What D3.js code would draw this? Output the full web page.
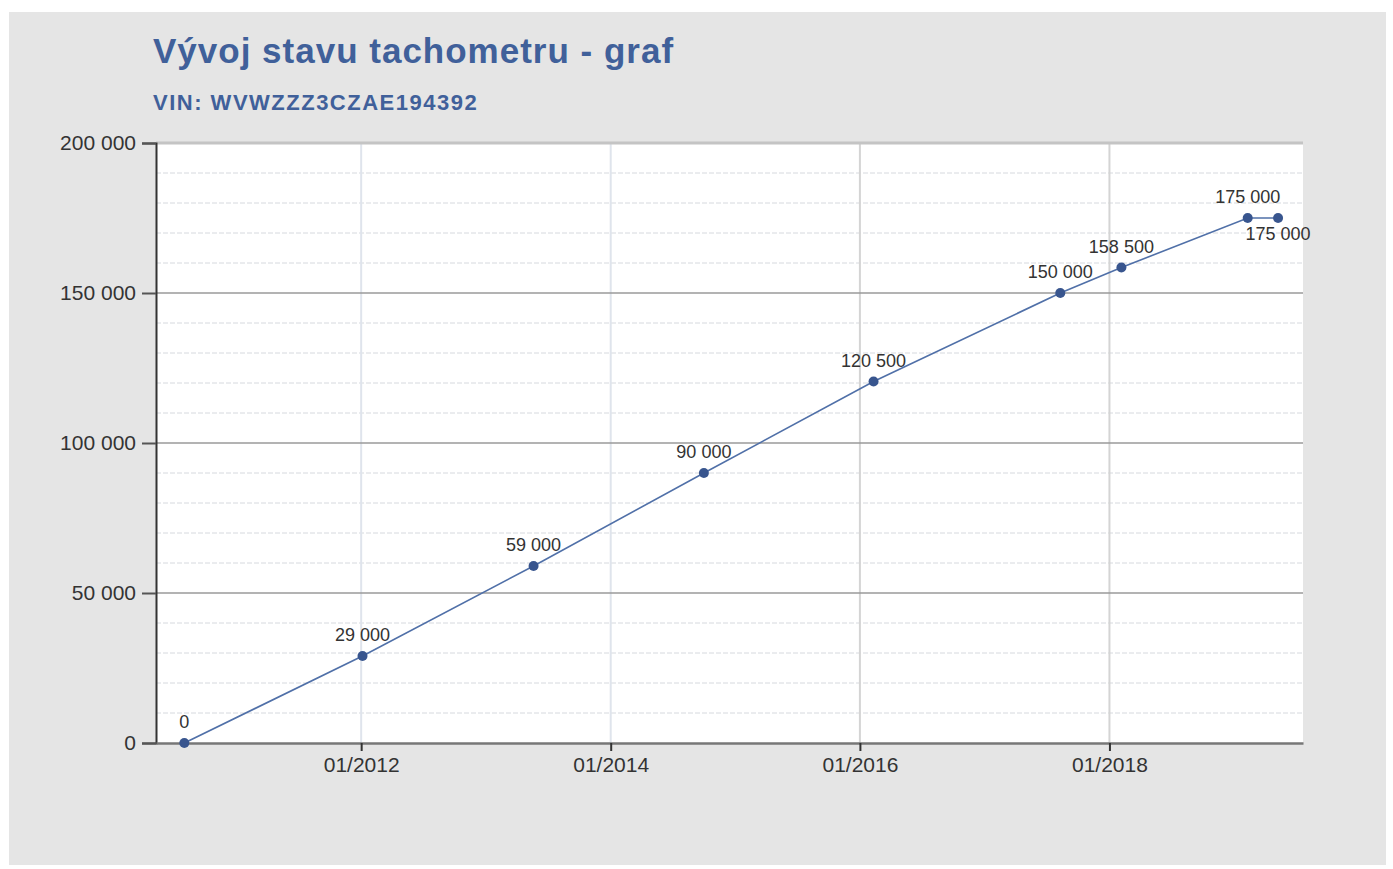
<!DOCTYPE html>
<html>
<head>
<meta charset="utf-8">
<script src="https://cdn.jsdelivr.net/npm/d3@7"></script>
<style>
  body { margin: 0; background: #fff; }
  svg { display: block; font-family: "Liberation Sans", Arial, sans-serif; }
</style>
</head>
<body>
<svg id="graf" width="1393" height="869"></svg>
<script>
// Data odečtu tachometru
const datumy = ["2010-08-01", "2012-01-05", "2013-05-20", "2014-10-01", "2016-02-10",
                "2017-08-10", "2018-02-05", "2019-02-10", "2019-05-10"];
const kilometry = [0, 29000, 59000, 90000, 120500, 150000, 158500, 175000, 175000];

const rozsahX = ["2010-05-10", "2019-07-22"];
const rozsahY = [0, 200000];
const tickyX = ["2012-01-01", "2014-01-01", "2016-01-01", "2018-01-01"];
const tickyY = [0, 50000, 100000, 150000, 200000];
const vedlejsiY = d3.range(10000, 200000, 10000);

const nadpis = "Vývoj stavu tachometru - graf";
const podnadpis = "VIN: WVWZZZ3CZAE194392";

const parse = d3.timeParse("%Y-%m-%d");
const cz = d3.formatLocale({ decimal: ",", thousands: " ", grouping: [3], currency: ["", " Kč"] });
const fmt = cz.format(",d");

const body = datumy.map((d, i) => ({ datum: parse(d), km: kilometry[i] }));

const svg = d3.select("#graf");

// šedé pozadí
svg.append("rect")
    .attr("x", 9).attr("y", 12)
    .attr("width", 1377).attr("height", 853)
    .attr("fill", "#e5e5e5");

svg.append("text")
    .attr("x", 153).attr("y", 63)
    .attr("fill", "#40609a")
    .attr("font-size", 35)
    .attr("font-weight", "bold")
    .attr("letter-spacing", 1)
    .text(nadpis);

svg.append("text")
    .attr("x", 153).attr("y", 110)
    .attr("fill", "#40609a")
    .attr("font-size", 22)
    .attr("font-weight", "bold")
    .attr("letter-spacing", 1.5)
    .text(podnadpis);

const margin = { top: 143, right: 90, bottom: 126, left: 156 };
const width = 1393 - margin.left - margin.right;
const height = 869 - margin.top - margin.bottom;

const g = svg.append("g")
    .attr("transform", "translate(" + margin.left + "," + margin.top + ")");

const x = d3.scaleTime()
    .domain(rozsahX.map(parse))
    .range([0, width]);

const y = d3.scaleLinear()
    .domain(rozsahY)
    .range([height, 0]);

// plocha grafu
g.append("rect")
    .attr("width", width).attr("height", height)
    .attr("fill", "#fff");

// vedlejší mřížka
g.selectAll(".minor")
    .data(vedlejsiY.filter(v => v % 50000 !== 0))
    .enter()
    .append("line")
    .attr("x1", 0).attr("x2", width)
    .attr("y1", d => y(d)).attr("y2", d => y(d))
    .attr("stroke", "#d6d9de")
    .attr("stroke-width", 1)
    .attr("stroke-dasharray", "5,2");

// svislá mřížka
g.selectAll(".vgrid")
    .data(tickyX.map(parse))
    .enter()
    .append("line")
    .attr("x1", d => x(d)).attr("x2", d => x(d))
    .attr("y1", 0).attr("y2", height)
    .attr("stroke", (d, i) => i < 2 ? "#dfe4ec" : "#d4d4d4")
    .attr("stroke-width", 2);

// hlavní mřížka
g.selectAll(".major")
    .data(tickyY.filter(v => v > 0))
    .enter()
    .append("line")
    .attr("x1", 0).attr("x2", width)
    .attr("y1", d => y(d)).attr("y2", d => y(d))
    .attr("stroke", d => d === rozsahY[1] ? "#c4c4c4" : "#9a9a9a")
    .attr("stroke-width", d => d === rozsahY[1] ? 3 : 1.5);

// osy
const osaY = g.append("g")
    .call(d3.axisLeft(y).tickValues(tickyY).tickFormat(fmt).tickSize(14).tickPadding(6));
osaY.select(".domain").attr("stroke", "#333").attr("stroke-width", 2);
osaY.selectAll(".tick line").attr("stroke", "#555").attr("stroke-width", 2);
osaY.selectAll("text").attr("font-size", 21).attr("fill", "#333").attr("font-family", "inherit");

const osaX = g.append("g")
    .attr("transform", "translate(0," + height + ")")
    .call(d3.axisBottom(x).tickValues(tickyX.map(parse)).tickFormat(d3.timeFormat("%m/%Y")).tickSize(8).tickPadding(6).tickSizeOuter(0));
osaX.select(".domain").attr("stroke", "#777").attr("stroke-width", 2.5);
osaX.selectAll(".tick line").attr("stroke", "#333").attr("stroke-width", 2);
osaX.selectAll("text").attr("font-size", 21).attr("fill", "#333").attr("font-family", "inherit");

// čára
const line = d3.line()
    .x(d => x(d.datum))
    .y(d => y(d.km));

g.append("path")
    .datum(body)
    .attr("fill", "none")
    .attr("stroke", "#5070a8")
    .attr("stroke-width", 1.6)
    .attr("d", line);

g.selectAll(".bod")
    .data(body)
    .enter()
    .append("circle")
    .attr("cx", d => x(d.datum))
    .attr("cy", d => y(d.km))
    .attr("r", 5)
    .attr("fill", "#38558e");

// popisky – poslední bod se stejnou hodnotou jde pod bod
g.selectAll(".popis")
    .data(body)
    .enter()
    .append("text")
    .attr("x", d => x(d.datum))
    .attr("y", (d, i) => y(d.km) + (i > 0 && body[i - 1].km === d.km ? 22 : -15))
    .attr("text-anchor", "middle")
    .attr("font-size", 18)
    .attr("fill", "#333")
    .text(d => fmt(d.km));
</script>
</body>
</html>
